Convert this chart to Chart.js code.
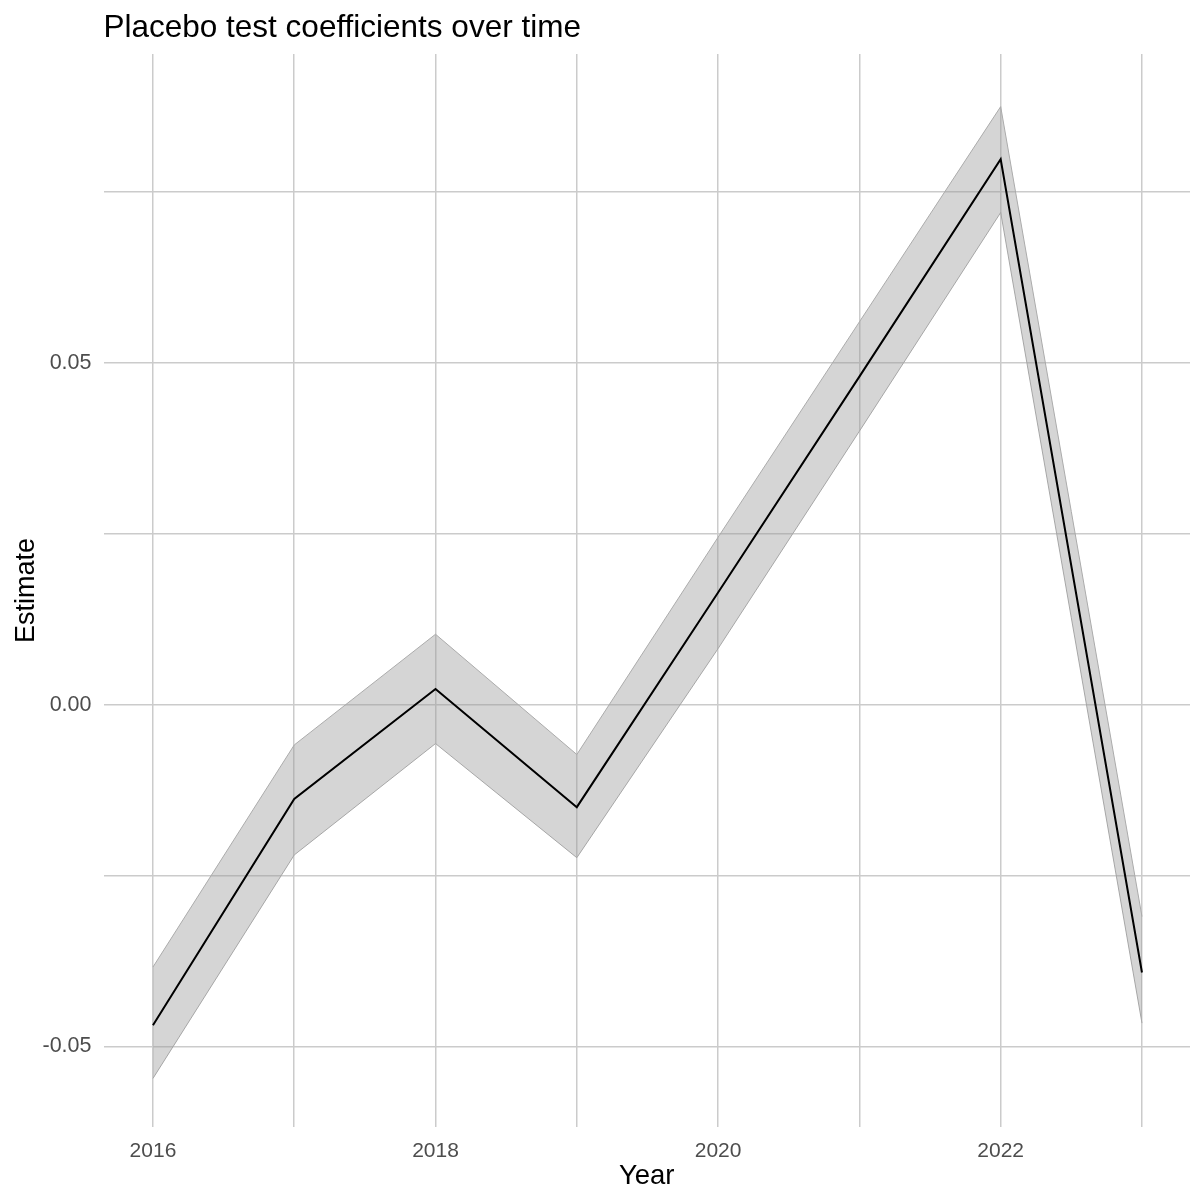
<!DOCTYPE html>
<html>
<head>
<meta charset="utf-8">
<script src="https://cdn.jsdelivr.net/npm/chart.js@4.4.1/dist/chart.umd.min.js"></script>
<style>
  html, body { margin: 0; padding: 0; background: #ffffff; }
  #wrap { width: 1190px; height: 1193px; }
</style>
</head>
<body>
<div id="wrap"><canvas id="c" width="1190" height="1193"></canvas></div>
<script>
const years = [2016, 2017, 2018, 2019, 2020, 2021, 2022, 2023];
const estimate = [-0.0469, -0.0138, 0.0023, -0.0150, 0.0164, 0.0480, 0.0798, -0.0392];
const lower = [-0.0547, -0.0220, -0.0057, -0.0224, 0.0082, 0.0400, 0.0720, -0.0466];
const upper = [-0.0384, -0.0059, 0.0103, -0.0073, 0.0245, 0.0560, 0.0875, -0.0310];
const xTickValues = [2016, 2017, 2018, 2019, 2020, 2021, 2022, 2023];
const xTickLabels = { 2016: '2016', 2018: '2018', 2020: '2020', 2022: '2022' };
const yTickValues = [-0.05, -0.025, 0, 0.025, 0.05, 0.075];
const yTickLabels = { '-0.05': '-0.05', '0': '0.00', '0.05': '0.05' };

const FONT = "'Liberation Sans', Arial, Helvetica, sans-serif";
const pts = arr => years.map((y, i) => ({ x: y, y: arr[i] }));

const titlePlugin = {
  id: 'ggTitle',
  afterDraw(chart) {
    const ctx = chart.ctx;
    ctx.save();
    ctx.fillStyle = '#000000';
    ctx.font = '31.5px ' + FONT;
    ctx.textAlign = 'left';
    ctx.textBaseline = 'alphabetic';
    ctx.fillText('Placebo test coefficients over time', chart.chartArea.left, 37);
    ctx.restore();
  }
};

new Chart(document.getElementById('c'), {
  type: 'line',
  data: {
    datasets: [
      { label: 'Estimate', data: pts(estimate), borderColor: '#000000', borderWidth: 2,
        pointRadius: 0, fill: false, tension: 0, order: 0 },
      { label: 'Upper', data: pts(upper), borderColor: '#ababab', borderWidth: 1,
        backgroundColor: 'rgba(150,150,150,0.40)', pointRadius: 0, fill: '+1', tension: 0, order: 1 },
      { label: 'Lower', data: pts(lower), borderColor: '#ababab', borderWidth: 1,
        pointRadius: 0, fill: false, tension: 0, order: 2 }
    ]
  },
  options: {
    responsive: false,
    animation: false,
    events: [],
    layout: { padding: { top: 54, left: 0, right: 0, bottom: 0 } },
    plugins: { legend: { display: false }, tooltip: { enabled: false }, title: { display: false } },
    scales: {
      x: {
        type: 'linear',
        min: 2015.65,
        max: 2023.34,
        afterFit(scale) { scale.height = 66; },
        afterBuildTicks(scale) { scale.ticks = xTickValues.map(v => ({ value: v })); },
        grid: { color: '#cbcbcb', lineWidth: 1.5, drawTicks: false },
        border: { display: false },
        ticks: {
          autoSkip: false, maxRotation: 0, padding: 12, color: '#4d4d4d',
          font: { family: FONT, size: 21 },
          callback: v => xTickLabels[v] || ''
        },
        title: { display: true, text: 'Year', color: '#000000',
          font: { family: FONT, size: 27.5 }, padding: { top: 0, bottom: 0 } }
      },
      y: {
        type: 'linear',
        min: -0.0618,
        max: 0.0952,
        afterFit(scale) { scale.width = 103.5; },
        afterBuildTicks(scale) { scale.ticks = yTickValues.map(v => ({ value: v })); },
        grid: { color: '#cbcbcb', lineWidth: 1.5, drawTicks: false },
        border: { display: false },
        ticks: {
          autoSkip: false, padding: 12, color: '#4d4d4d',
          font: { family: FONT, size: 21.5 },
          callback: v => yTickLabels[String(Math.round(v * 1000) / 1000)] || ''
        },
        title: { display: true, text: 'Estimate', color: '#000000',
          font: { family: FONT, size: 27 }, padding: { top: 10, bottom: 0 } }
      }
    }
  },
  plugins: [titlePlugin]
});
</script>
</body>
</html>
